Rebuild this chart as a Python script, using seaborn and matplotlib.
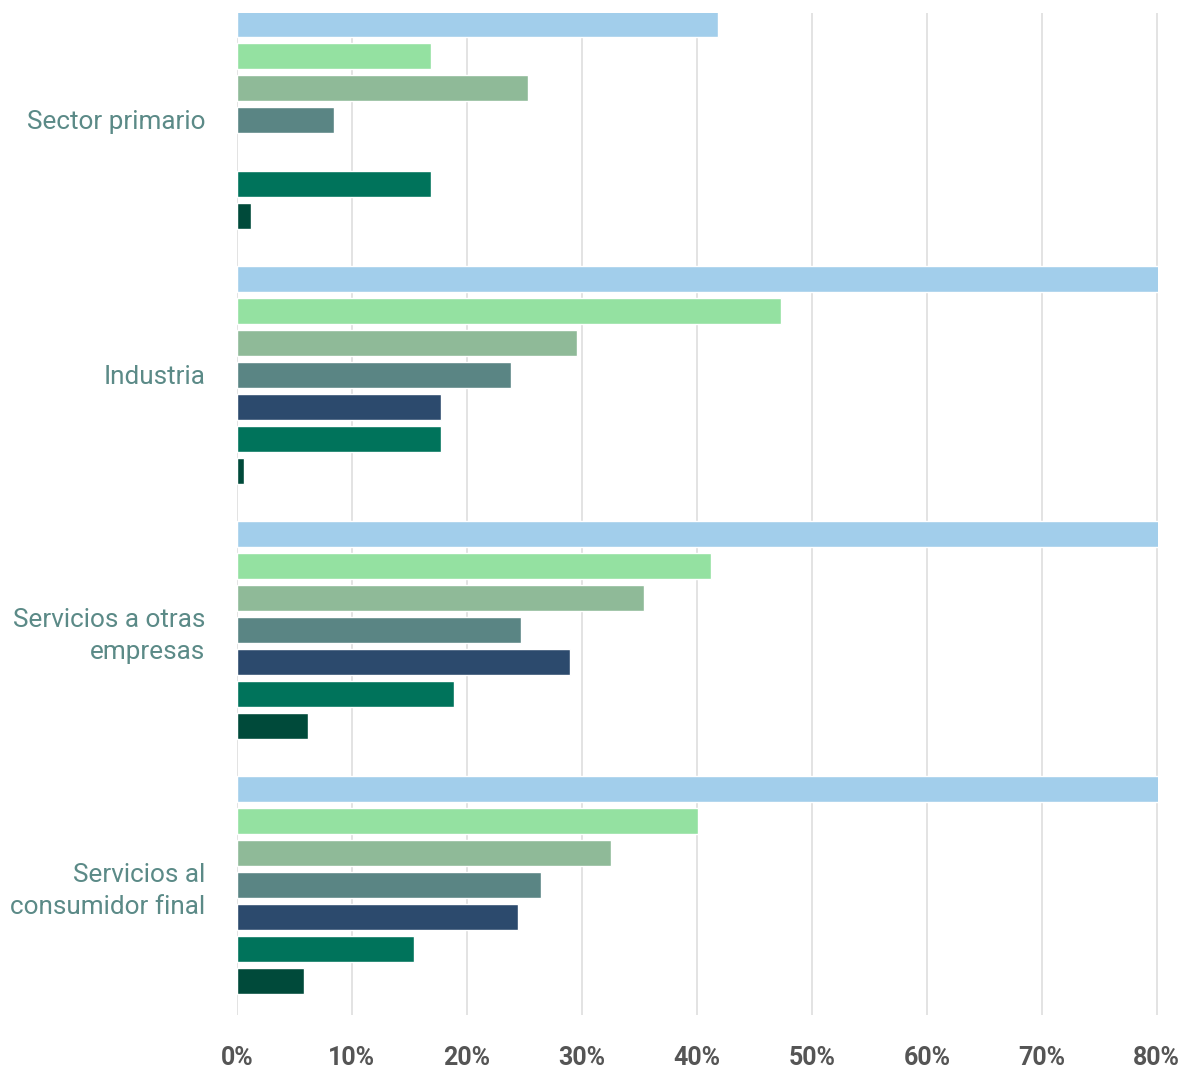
import matplotlib
matplotlib.use('Agg')
import matplotlib.pyplot as plt
import matplotlib.ticker as mticker
import pandas as pd
import seaborn as sns

# ── Data (percent of firms) ───────────────────────────────────────────────
categories = ['Sector primario', 'Industria',
              'Servicios a otras\nempresas', 'Servicios al\nconsumidor final']
series = ['Serie 1', 'Serie 2', 'Serie 3', 'Serie 4', 'Serie 5', 'Serie 6', 'Serie 7']

# one list per series, one value per category (None = no bar)
serie_1 = [41.8, 88.0, 86.0, 85.0]   # values above 80 are cut by the axis
serie_2 = [16.9, 47.3, 41.2, 40.1]
serie_3 = [25.3, 29.6, 35.4, 32.5]
serie_4 = [8.4, 23.8, 24.7, 26.4]
serie_5 = [None, 17.7, 29.0, 24.4]
serie_6 = [16.9, 17.7, 18.9, 15.4]
serie_7 = [1.2, 0.6, 6.2, 5.8]

colours = ['#A2CEEB', '#94E1A1', '#8FBA98', '#5A8584',
           '#2C4A6D', '#00735B', '#004A3A']

rows = []
for name, vals in zip(series, [serie_1, serie_2, serie_3, serie_4,
                               serie_5, serie_6, serie_7]):
    for cat, v in zip(categories, vals):
        if v is not None:
            rows.append({'sector': cat, 'serie': name, 'pct': v})
df = pd.DataFrame(rows)

# ── Style ─────────────────────────────────────────────────────────────────
sns.set_style('white')
plt.rcParams['font.family'] = ['Roboto', 'DejaVu Sans']

fig = plt.figure(figsize=(11.85, 10.68), dpi=100)
ax = fig.add_axes([0.2, 0.0496, 0.7772, 0.9384])

sns.barplot(data=df, y='sector', x='pct', hue='serie',
            order=categories, hue_order=series, palette=colours,
            orient='h', width=0.878, gap=0.19, saturation=1,
            errorbar=None, legend=False, ax=ax)

ax.set_xlim(0, 80.1)
ax.set_ylim(3.51, -0.42)
ax.xaxis.set_major_locator(mticker.MultipleLocator(10))
ax.xaxis.set_major_formatter(mticker.FuncFormatter(lambda v, _: f'{v:.0f}%'))

ax.grid(axis='x', color='#e0e0e0', linewidth=1.3)
ax.grid(axis='y', visible=False)
ax.set_axisbelow(True)
sns.despine(left=True, bottom=True)

ax.set_xlabel('')
ax.set_ylabel('')
ax.tick_params(axis='both', length=0)
ax.tick_params(axis='x', pad=22, labelsize=18, labelcolor='#555555')
ax.tick_params(axis='y', pad=23, labelsize=18.8, labelcolor='#5B8A87')
for lab in ax.get_xticklabels():
    lab.set_fontweight('bold')
for lab in ax.get_yticklabels():
    lab.set_linespacing(1.4)

fig.savefig('out.png', dpi=100)
